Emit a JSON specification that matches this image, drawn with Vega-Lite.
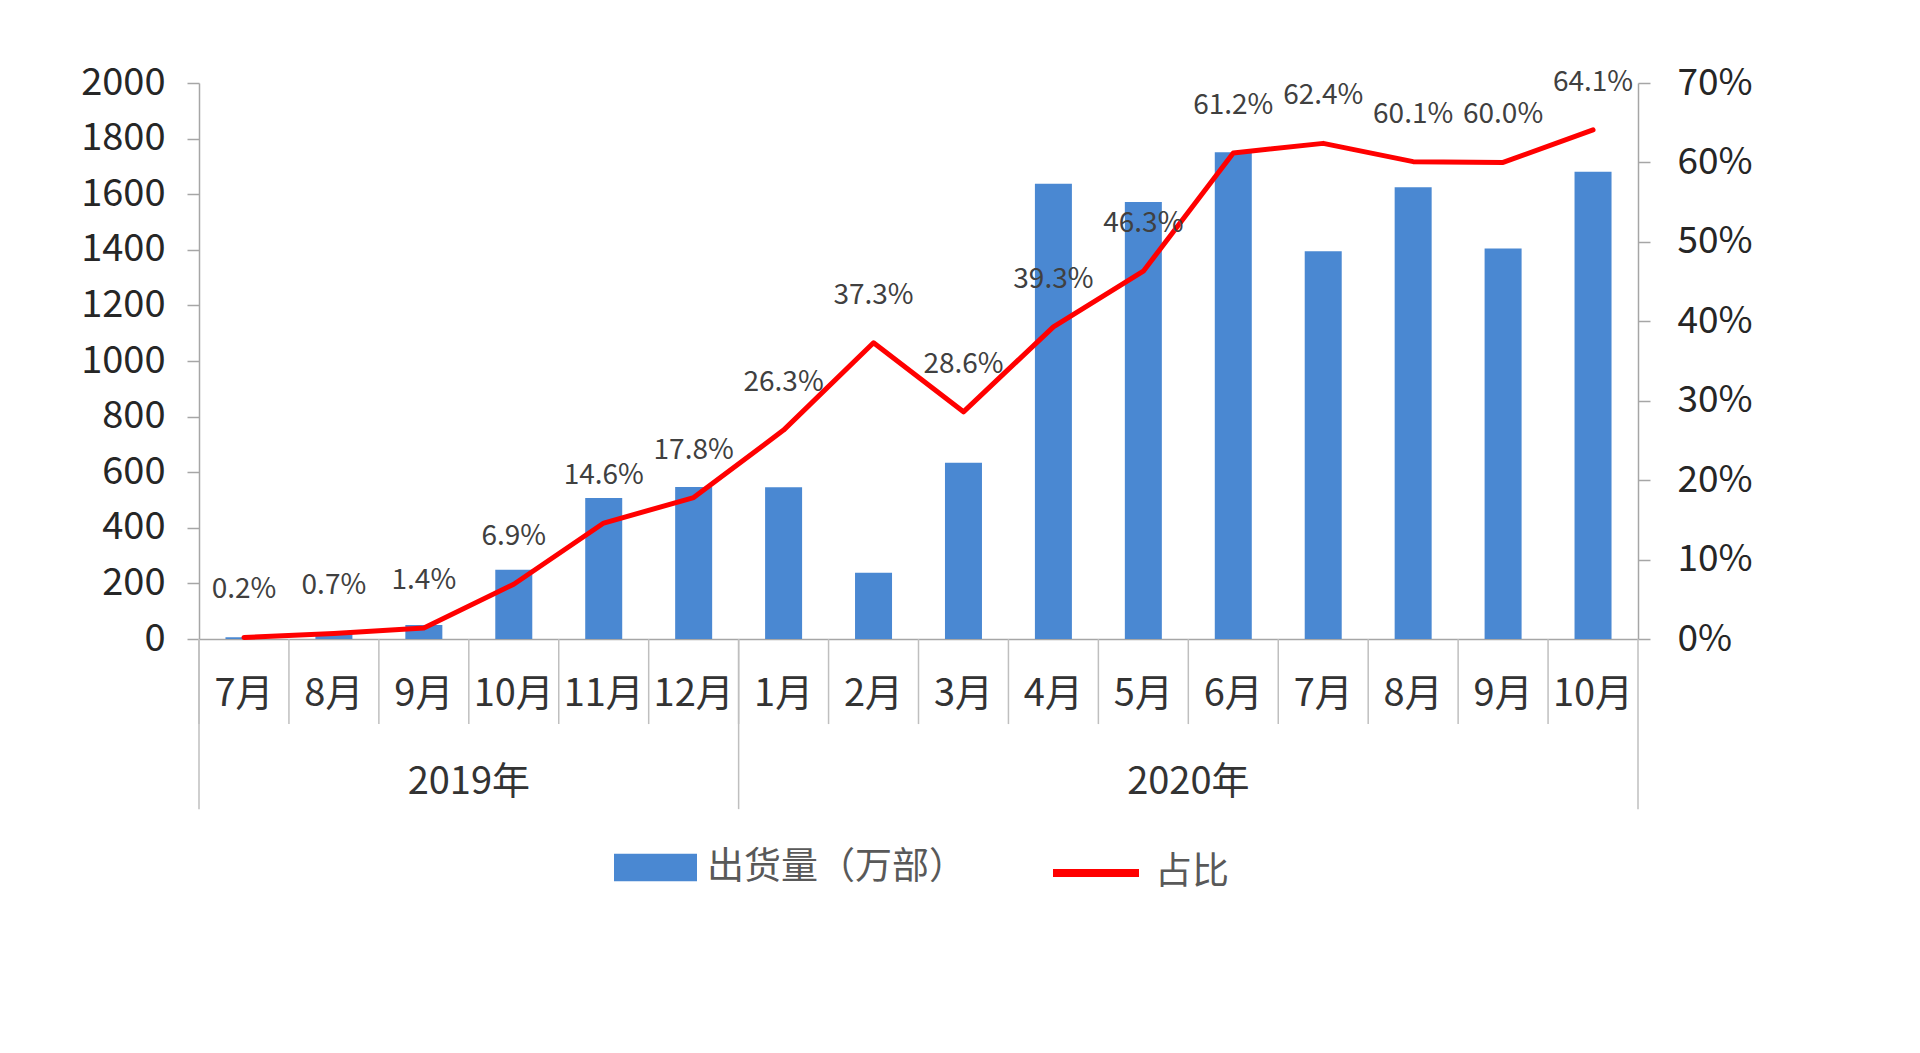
{
  "$schema": "https://vega.github.io/schema/vega-lite/v6.json",
  "width": 1439,
  "height": 556,
  "padding": {"left": 80, "top": 64, "right": 10, "bottom": 10},
  "autosize": {"type": "pad"},
  "background": "white",
  "title": {"text": "图 3：国内 5G 手机出货量及占比", "orient": "bottom", "anchor": "middle", "frame": "group", "baseline": "top", "offset": 240, "fontSize": 44, "fontWeight": 900, "font": "Noto Sans CJK SC", "color": "#1a1a1a"},
  "config": {"aria": false, "view": {"stroke": null}, "font": "Noto Sans CJK SC"},
  "datasets": {
    "main": [
      {"m": "2019-07", "ship": 6, "pct": 0.002},
      {"m": "2019-08", "ship": 22, "pct": 0.007},
      {"m": "2019-09", "ship": 50, "pct": 0.014},
      {"m": "2019-10", "ship": 249, "pct": 0.069},
      {"m": "2019-11", "ship": 507, "pct": 0.146},
      {"m": "2019-12", "ship": 547, "pct": 0.178},
      {"m": "2020-01", "ship": 546, "pct": 0.263},
      {"m": "2020-02", "ship": 238, "pct": 0.373},
      {"m": "2020-03", "ship": 634, "pct": 0.286},
      {"m": "2020-04", "ship": 1638, "pct": 0.393},
      {"m": "2020-05", "ship": 1572, "pct": 0.463},
      {"m": "2020-06", "ship": 1751, "pct": 0.612},
      {"m": "2020-07", "ship": 1395, "pct": 0.624},
      {"m": "2020-08", "ship": 1625, "pct": 0.601},
      {"m": "2020-09", "ship": 1405, "pct": 0.600},
      {"m": "2020-10", "ship": 1681, "pct": 0.641}
    ],
    "yearLabels": [
      {"m": "2019-09", "t": "2019年"},
      {"m": "2020-05", "t": "2020年"}
    ],
    "yearRulesL": [{"m": "2019-07"}, {"m": "2020-01"}],
    "yearRulesR": [{"m": "2020-10"}]
  },
  "layer": [
    {
      "data": {"name": "main"},
      "mark": {"type": "bar", "size": 37},
      "encoding": {
        "x": {
          "field": "m", "type": "nominal",
          "scale": {"paddingInner": 0, "paddingOuter": 0},
          "axis": {
            "title": null, "labelAngle": 0, "ticks": false,
            "labelExpr": "isString(datum.value) ? toNumber(slice(datum.value, 5)) + '月' : ''",
            "domainColor": "#a6a6a6", "domainWidth": 1.5,
            "labelPadding": 55, "labelBaseline": "middle",
            "labelFontSize": 38, "labelColor": "#333333", "labelFont": "Noto Sans CJK SC"
          }
        },
        "y": {
          "field": "ship", "type": "quantitative",
          "scale": {"domain": [0, 2000], "nice": false},
          "axis": {
            "orient": "left", "title": null, "grid": false, "format": "d",
            "values": [0, 200, 400, 600, 800, 1000, 1200, 1400, 1600, 1800, 2000],
            "domainColor": "#a6a6a6", "domainWidth": 1.5, "tickColor": "#a6a6a6", "tickSize": 12, "tickWidth": 1.5,
            "labelPadding": 22, "labelFontSize": 38, "labelColor": "#262626", "labelFont": "Noto Sans CJK SC"
          }
        },
        "fill": {
          "datum": "出货量（万部）", "type": "nominal",
          "scale": {"range": ["#4a88d2"]},
          "legend": {"orient": "none", "legendX": 415, "legendY": 743, "title": null, "symbolType": "M-1,-0.33H1V0.33H-1Z", "symbolSize": 6889, "symbolStrokeWidth": 0, "labelFontSize": 37, "labelLimit": 500, "labelColor": "#595959", "labelFont": "Noto Sans CJK SC", "labelOffset": 10}
        }
      }
    },
    {
      "data": {"name": "main"},
      "mark": {"type": "rule", "color": "#bfbfbf", "strokeWidth": 1.5},
      "encoding": {
        "x": {"field": "m", "type": "nominal", "bandPosition": 0},
        "y": {"datum": 0, "type": "quantitative", "scale": {"domain": [0, 2000], "nice": false}, "axis": null},
        "y2": {"datum": -306}
      }
    },
    {
      "data": {"name": "yearRulesL"},
      "mark": {"type": "rule", "color": "#bfbfbf", "strokeWidth": 1.5},
      "encoding": {
        "x": {"field": "m", "type": "nominal", "bandPosition": 0},
        "y": {"datum": 0, "type": "quantitative", "scale": {"domain": [0, 2000], "nice": false}, "axis": null},
        "y2": {"datum": -612}
      }
    },
    {
      "data": {"name": "yearRulesR"},
      "mark": {"type": "rule", "color": "#bfbfbf", "strokeWidth": 1.5},
      "encoding": {
        "x": {"field": "m", "type": "nominal", "bandPosition": 1},
        "y": {"datum": 0, "type": "quantitative", "scale": {"domain": [0, 2000], "nice": false}, "axis": null},
        "y2": {"datum": -612}
      }
    },
    {
      "data": {"name": "yearLabels"},
      "mark": {"type": "text", "fontSize": 38, "color": "#333333", "baseline": "middle", "align": "center", "font": "Noto Sans CJK SC"},
      "encoding": {
        "x": {"field": "m", "type": "nominal", "bandPosition": 1},
        "y": {"datum": -518, "type": "quantitative", "scale": {"domain": [0, 2000], "nice": false}, "axis": null},
        "text": {"field": "t", "type": "nominal"}
      }
    },
    {
      "data": {"name": "main"},
      "mark": {"type": "line", "strokeWidth": 5, "strokeCap": "round", "strokeJoin": "round"},
      "encoding": {
        "x": {"field": "m", "type": "nominal"},
        "y": {
          "field": "pct", "type": "quantitative",
          "scale": {"domain": [0, 0.7], "nice": false},
          "axis": {
            "orient": "right", "title": null, "grid": false, "format": ".0%",
            "values": [0, 0.1, 0.2, 0.3, 0.4, 0.5, 0.6, 0.7],
            "domainColor": "#a6a6a6", "domainWidth": 1.5, "tickColor": "#a6a6a6", "tickSize": 12, "tickWidth": 1.5,
            "labelPadding": 27, "labelFontSize": 37, "labelColor": "#262626", "labelFont": "Noto Sans CJK SC"
          }
        },
        "stroke": {
          "datum": "占比", "type": "nominal",
          "scale": {"range": ["#ff0000"]},
          "legend": {"orient": "none", "legendX": 850, "legendY": 743, "title": null, "symbolType": "stroke", "symbolSize": 7396, "symbolStrokeWidth": 8, "labelFontSize": 37, "labelLimit": 500, "labelColor": "#595959", "labelFont": "Noto Sans CJK SC", "labelOffset": 12}
        }
      }
    },
    {
      "data": {"name": "main"},
      "mark": {"type": "text", "fontSize": 28, "color": "#404040", "baseline": "middle", "align": "center", "dy": -47, "font": "Noto Sans CJK SC"},
      "encoding": {
        "x": {"field": "m", "type": "nominal"},
        "y": {"field": "pct", "type": "quantitative", "scale": {"domain": [0, 0.7], "nice": false}, "axis": null},
        "text": {"field": "pct", "type": "quantitative", "format": ".1%"}
      }
    }
  ],
  "resolve": {"scale": {"y": "independent", "fill": "independent", "stroke": "independent"}}
}
